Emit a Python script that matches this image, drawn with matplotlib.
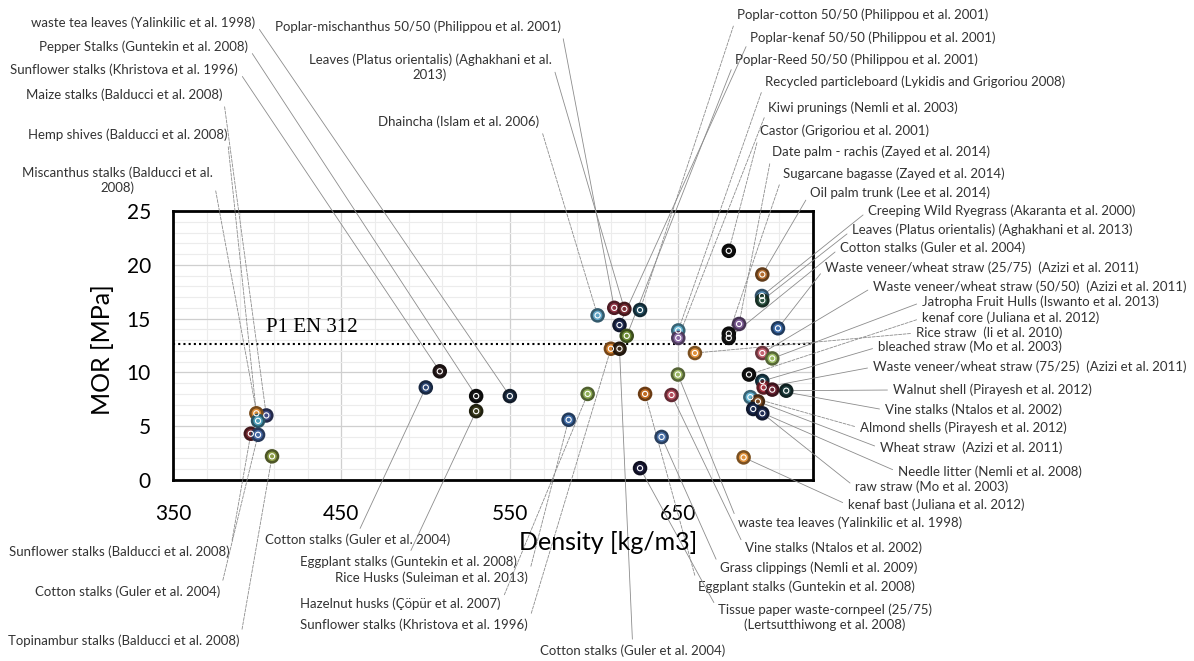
import matplotlib.pyplot as plt
import matplotlib.colors as mcolors
import numpy as np

plt.rcParams['font.family'] = ['Lato', 'DejaVu Sans']

# MOR vs density, one point per material / reference
names = [
    "Maize stalks (Balducci et al. 2008)",
    "Hemp shives (Balducci et al. 2008)",
    "Miscanthus stalks (Balducci et al.\n2008)",
    "Sunflower stalks (Balducci et al. 2008)",
    "Cotton stalks (Guler et al. 2004)",
    "Topinambur stalks (Balducci et al. 2008)",
    "Sunflower stalks (Khristova et al. 1996)",
    "Pepper Stalks (Guntekin et al. 2008)",
    "waste tea leaves (Yalinkilic et al. 1998)",
    "Cotton stalks (Guler et al. 2004)",
    "Eggplant stalks (Guntekin et al. 2008)",
    "Rice Husks (Suleiman et al. 2013)",
    "Hazelnut husks (Çöpür et al. 2007)",
    "Sunflower stalks (Khristova et al. 1996)",
    "Cotton stalks (Guler et al. 2004)",
    "Poplar-mischanthus 50/50 (Philippou et al. 2001)",
    "Leaves (Platus orientalis) (Aghakhani et al.\n2013)",
    "Dhaincha (Islam et al. 2006)",
    "Poplar-cotton 50/50 (Philippou et al. 2001)",
    "Poplar-kenaf 50/50 (Philippou et al. 2001)",
    "Poplar-Reed 50/50 (Philippou et al. 2001)",
    "Recycled particleboard (Lykidis and Grigoriou 2008)",
    "Kiwi prunings (Nemli et al. 2003)",
    "Castor (Grigoriou et al. 2001)",
    "Date palm - rachis (Zayed et al. 2014)",
    "Sugarcane bagasse (Zayed et al. 2014)",
    "Oil palm trunk (Lee et al. 2014)",
    "Creeping Wild Ryegrass (Akaranta et al. 2000)",
    "Leaves (Platus orientalis) (Aghakhani et al. 2013)",
    "Cotton stalks (Guler et al. 2004)",
    "Waste veneer/wheat straw (25/75)  (Azizi et al. 2011)",
    "Waste veneer/wheat straw (50/50)  (Azizi et al. 2011)",
    "Jatropha Fruit Hulls (Iswanto et al. 2013)",
    "kenaf core (Juliana et al. 2012)",
    "Rice straw  (li et al. 2010)",
    "bleached straw (Mo et al. 2003)",
    "Waste veneer/wheat straw (75/25)  (Azizi et al. 2011)",
    "Walnut shell (Pirayesh et al. 2012)",
    "Vine stalks (Ntalos et al. 2002)",
    "Almond shells (Pirayesh et al. 2012)",
    "Wheat straw  (Azizi et al. 2011)",
    "Needle litter (Nemli et al. 2008)",
    "raw straw (Mo et al. 2003)",
    "kenaf bast (Juliana et al. 2012)",
    "waste tea leaves (Yalinkilic et al. 1998)",
    "Vine stalks (Ntalos et al. 2002)",
    "Grass clippings (Nemli et al. 2009)",
    "Eggplant stalks (Guntekin et al. 2008)",
    "Tissue paper waste-cornpeel (25/75)\n(Lertsutthiwong et al. 2008)",
]

density = [405.4, 399.5, 400.5, 396.2, 400.5, 408.8, 508.4, 530.0, 550.0, 500.1,
           530.0, 584.9, 596.2, 610.0, 615.1, 612.0, 618.0, 602.1, 627.3, 615.1,
           619.4, 650.0, 650.0, 680.0, 686.1, 680.0, 699.9, 699.7, 699.9, 680.0,
           709.2, 699.9, 705.8, 692.0, 659.9, 699.9, 700.7, 714.1, 705.8, 692.8,
           697.3, 694.5, 699.9, 688.8, 649.8, 646.0, 640.1, 630.3, 627.3]

mor = [6.0, 6.2, 5.5, 4.3, 4.2, 2.2, 10.1, 7.8, 7.8, 8.6,
       6.4, 5.6, 8.0, 12.2, 12.2, 16.0, 15.9, 15.3, 15.8, 14.4,
       13.4, 13.9, 13.2, 21.3, 14.5, 13.6, 19.1, 17.1, 16.7, 13.2,
       14.1, 11.8, 11.3, 9.8, 11.8, 9.2, 8.6, 8.3, 8.4, 7.7,
       7.3, 6.6, 6.2, 2.1, 9.8, 7.9, 4.0, 8.0, 1.1]

en312_p1 = 12.6

colors = ['#3f4a85', '#d98b35', '#4a9bb5', '#7b2b33', '#4668a3', '#8c9d45', '#2b1d1d',
          '#161616', '#1f3148', '#2c4674', '#3b3b1c', '#3d6aa6', '#8fae55', '#d4802e',
          '#3a2818', '#8c3142', '#7a2b33', '#5fa3c4', '#1f4a5c', '#1f2b52', '#6b8b32',
          '#66b4d2', '#8a6aa3', '#111111', '#7d5c95', '#151515', '#b36d30', '#5a92bc',
          '#2a5240', '#1a1a1a', '#3b6aa8', '#c2606f', '#9aba62', '#141414', '#e0913b',
          '#1f4b5c', '#a3323f', '#1c3b3b', '#6b2231', '#66b4d2', '#7b4a22', '#1b2b52',
          '#1f2c54', '#e0913b', '#9ab463', '#b34b5c', '#4a72aa', '#c26c22', '#1b1b3b']

# label placement in figure pixels from the top-left: x, y, ha, line start (relpos), line style
R, L, C = 'right', 'left', 'center'
layout = [
    (223, 95, R, (1, .5), '--'), (227, 135, R, (1, .5), '--'), (117, 180, C, (1, .75), '--'),
    (230, 552, R, (1, .5), '--'), (220, 592, R, (1, .5), '--'), (240, 641, R, (1, .5), '--'),
    (238, 70, R, (1, .5), '-'), (248, 47, R, (1, .5), '-'), (255, 23, R, (1, .5), '-'),
    (265, 540, L, (.5, 1), '-'), (300, 562, L, (.5, 1), '-'), (335, 578, L, (1, .5), '--'),
    (300, 604, L, (1, .5), '--'), (300, 625, L, (1, .5), '--'), (540, 651, L, (.5, 1), '-'),
    (275, 27, L, (1, .5), '-'), (430, 67, C, (1, .75), '-'), (378, 122, L, (1, .5), '--'),
    (737, 15, L, (0, .5), '--'), (750, 38, L, (0, .5), '-'), (735, 60, L, (0, .5), '-'),
    (765, 82, L, (0, .5), '--'), (768, 108, L, (0, .5), '--'), (760, 131, L, (0, .5), '--'),
    (772, 152, L, (0, .5), '--'), (783, 174, L, (0, .5), '--'), (810, 193, L, (0, .5), '-'),
    (868, 211, L, (0, .5), '-'), (852, 230, L, (0, .5), '-'), (840, 248, L, (0, .5), '-'),
    (825, 268, L, (0, .5), '-'), (873, 287, L, (0, .5), '-'), (922, 302, L, (0, .5), '-'),
    (922, 318, L, (0, .5), '--'), (916, 333, L, (0, .5), '--'), (878, 347, L, (0, .5), '-'),
    (873, 367, L, (0, .5), '-'), (893, 390, L, (0, .5), '-'), (885, 410, L, (0, .5), '-'),
    (860, 428, L, (0, .5), '--'), (880, 448, L, (0, .5), '-'), (898, 472, L, (0, .5), '-'),
    (855, 487, L, (0, .5), '-'), (848, 505, L, (0, .5), '-'), (738, 523, L, (0, .5), '-'),
    (745, 548, L, (0, .5), '-'), (720, 568, L, (0, .5), '-'), (698, 587, L, (0, .5), '--'),
    (825, 617, C, (0, .75), '-'),
]

W, H = 1194, 661
fig = plt.figure(figsize=(W / 100, H / 100), dpi=100)
ax = fig.add_axes([173 / W, 1 - 480 / H, (813 - 173) / W, (480 - 211) / H])

ax.set_xlim(350, 730)
ax.set_ylim(0, 25)
ax.set_xticks([350, 450, 550, 650])
ax.set_yticks([0, 5, 10, 15, 20, 25])
ax.set_xticks(np.arange(350, 731, 20), minor=True)
ax.set_yticks(np.arange(0, 26, 1), minor=True)
ax.grid(which='minor', color='#ececec', lw=0.8)
ax.grid(which='major', color='#cfcfcf', lw=0.9)
ax.set_axisbelow(True)
ax.tick_params(which='both', length=0)
ax.tick_params(axis='x', labelsize=15, pad=17)
ax.tick_params(axis='y', labelsize=15, pad=16)
for s in ax.spines.values():
    s.set_linewidth(2)
    s.set_color('black')

# axis titles sit where the original placed them
fig.text(608 / W, 1 - 542 / H, "Density [kg/m3]", fontsize=18, ha='center', va='center')
fig.text(103 / W, 1 - 350 / H, "MOR [MPa]", fontsize=18, rotation=90, ha='center', va='center')

ax.axhline(en312_p1, color='black', ls=(0, (1, 1.5)), lw=1.5)
ax.text(405, en312_p1 + 0.7, "P1 EN 312", family='Liberation Serif', fontsize=15, va='bottom')

for i in range(len(names)):
    lx, ly, ha, rel, ls = layout[i]
    ax.annotate(names[i], xy=(density[i], mor[i]), xytext=(lx, H - ly),
                textcoords='figure pixels', ha=ha, va='center', fontsize=9.5,
                color='#333333', linespacing=1.25, annotation_clip=False,
                arrowprops=dict(arrowstyle='-', color='#8c8c8c', lw=0.6, ls=ls,
                                relpos=rel, shrinkA=2, shrinkB=5))

dark = [tuple(np.array(mcolors.to_rgb(c)) * 0.55) for c in colors]
ax.scatter(density, mor, s=75, c=colors, edgecolors=dark, linewidths=1.8, zorder=3)
ax.scatter(density, mor, s=14, facecolors='none', edgecolors='white', linewidths=0.8, zorder=4)

fig.savefig("out.png", dpi=100)
